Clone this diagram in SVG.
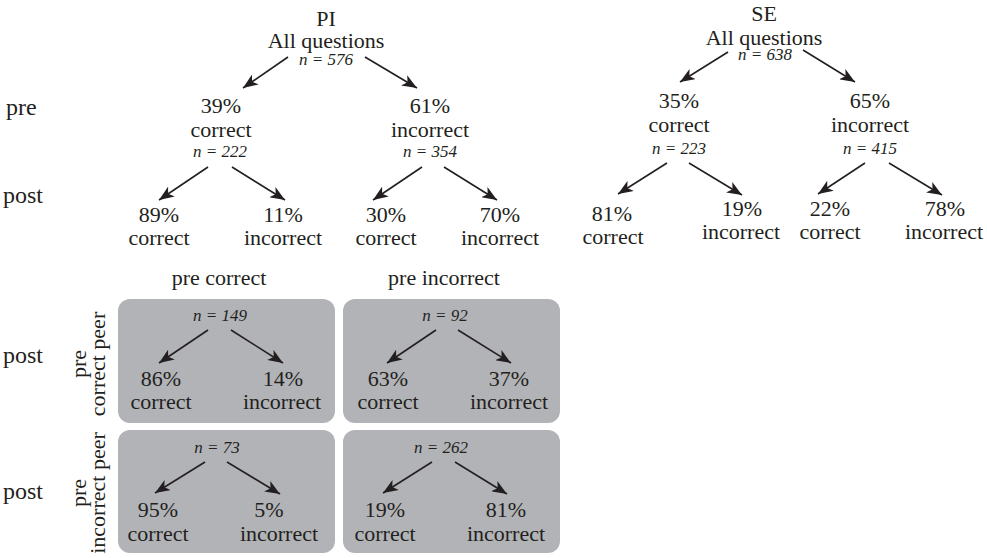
<svg xmlns="http://www.w3.org/2000/svg" width="987" height="558" viewBox="0 0 987 558">
<defs>
<marker id="ah" viewBox="0 0 15 12" refX="15" refY="6" markerWidth="15" markerHeight="12" markerUnits="userSpaceOnUse" orient="auto">
<path d="M0,0 L15,6 L0,12 L4,6 Z" fill="#231f20"/>
</marker>
<style>
text{font-family:"Liberation Serif","Times New Roman",serif;fill:#231f20;font-size:22px;text-anchor:middle}
.n{font-style:italic;font-size:17px}
.side{font-size:24px;text-anchor:start}
.box{fill:#b2b3b7}
line{stroke:#231f20;stroke-width:1.6;marker-end:url(#ah)}
</style>
</defs>
<rect width="987" height="558" fill="#ffffff"/>
<g id="row-labels">
<text class="side" x="6" y="115">pre</text>
<text class="side" x="3" y="203">post</text>
<text class="side" x="3" y="363">post</text>
<text class="side" x="3" y="499">post</text>
</g>
<g id="pi-root"><text x="326" y="26">PI</text><text x="326" y="48">All questions</text><text class="n" x="326" y="65">n = 576</text></g>
<g id="pi-pre-correct"><text x="221" y="113">39%</text><text x="221" y="137">correct</text><text class="n" x="220" y="157">n = 222</text></g>
<g id="pi-pre-incorrect"><text x="430" y="113">61%</text><text x="430" y="137">incorrect</text><text class="n" x="430" y="157">n = 354</text></g>
<g id="pi-cc"><text x="159" y="222">89%</text><text x="159" y="245">correct</text></g>
<g id="pi-ci"><text x="283" y="222">11%</text><text x="283" y="245">incorrect</text></g>
<g id="pi-ic"><text x="386" y="222">30%</text><text x="386" y="245">correct</text></g>
<g id="pi-ii"><text x="500" y="222">70%</text><text x="500" y="245">incorrect</text></g>
<g id="se-root"><text x="764" y="21">SE</text><text x="764" y="45">All questions</text><text class="n" x="765" y="60">n = 638</text></g>
<g id="se-pre-correct"><text x="679" y="108">35%</text><text x="679" y="132">correct</text><text class="n" x="679" y="154">n = 223</text></g>
<g id="se-pre-incorrect"><text x="870" y="108">65%</text><text x="870" y="132">incorrect</text><text class="n" x="870" y="154">n = 415</text></g>
<g id="se-cc"><text x="612" y="221">81%</text><text x="613" y="244">correct</text></g>
<g id="se-ci"><text x="742" y="216">19%</text><text x="741" y="239">incorrect</text></g>
<g id="se-ic"><text x="830" y="216">22%</text><text x="830" y="239">correct</text></g>
<g id="se-ii"><text x="945" y="216">78%</text><text x="944" y="239">incorrect</text></g>
<g id="col-headers"><text x="219" y="285">pre correct</text><text x="444" y="285">pre incorrect</text></g>
<g id="row-headers">
<g transform="translate(0,364) rotate(-90)"><text x="0" y="86">pre</text><text x="0" y="105">correct peer</text></g>
<g transform="translate(0,493) rotate(-90)"><text x="0" y="86">pre</text><text x="0" y="105">incorrect peer</text></g>
</g>
<g id="box-cc"><rect class="box" x="118" y="299" width="217" height="124" rx="12"/><text class="n" x="220" y="321">n = 149</text><text x="161" y="386">86%</text><text x="161" y="409">correct</text><text x="283" y="386">14%</text><text x="282" y="409">incorrect</text></g>
<g id="box-ci"><rect class="box" x="343" y="299" width="217" height="124" rx="12"/><text class="n" x="445" y="321">n = 92</text><text x="388" y="386">63%</text><text x="388" y="409">correct</text><text x="509" y="386">37%</text><text x="509" y="409">incorrect</text></g>
<g id="box-ic"><rect class="box" x="118" y="430" width="217" height="123" rx="12"/><text class="n" x="217" y="453">n = 73</text><text x="158" y="517">95%</text><text x="158" y="541">correct</text><text x="269" y="517">5%</text><text x="279" y="541">incorrect</text></g>
<g id="box-ii"><rect class="box" x="343" y="430" width="217" height="123" rx="12"/><text class="n" x="441" y="453">n = 262</text><text x="385" y="517">19%</text><text x="385" y="541">correct</text><text x="506" y="517">81%</text><text x="506" y="541">incorrect</text></g>
<g id="connectors">
<line x1="288" y1="57" x2="243" y2="88"/>
<line x1="365" y1="57" x2="417" y2="88"/>
<line x1="208" y1="167" x2="159" y2="200"/>
<line x1="232" y1="167" x2="285" y2="200"/>
<line x1="422" y1="167" x2="373" y2="200"/>
<line x1="444" y1="167" x2="497" y2="200"/>
<line x1="728" y1="52" x2="680" y2="82"/>
<line x1="803" y1="50" x2="855" y2="82"/>
<line x1="667" y1="163" x2="618" y2="194"/>
<line x1="689" y1="163" x2="742" y2="195"/>
<line x1="865" y1="163" x2="818" y2="194"/>
<line x1="889" y1="163" x2="942" y2="195"/>
<line x1="208" y1="330" x2="159" y2="363"/>
<line x1="231" y1="330" x2="283" y2="363"/>
<line x1="436" y1="330" x2="387" y2="363"/>
<line x1="458" y1="330" x2="511" y2="363"/>
<line x1="205" y1="462" x2="155" y2="493"/>
<line x1="227" y1="462" x2="280" y2="494"/>
<line x1="432" y1="462" x2="383" y2="493"/>
<line x1="455" y1="462" x2="507" y2="494"/>
</g>
</svg>
